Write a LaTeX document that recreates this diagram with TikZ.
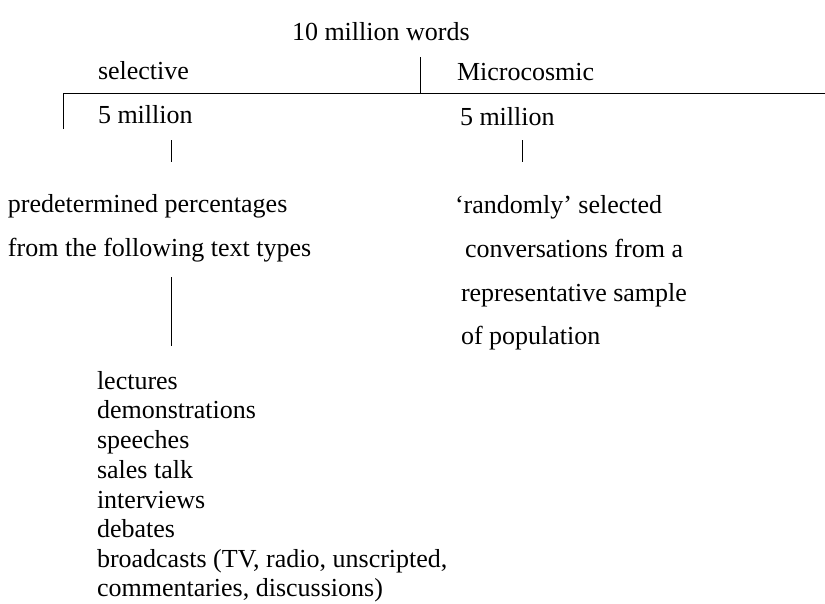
\documentclass[tikz,border=0pt]{standalone}
\usepackage{fontspec}
\setmainfont{Liberation Serif}
\begin{document}
\begin{tikzpicture}[x=1pt,y=-1pt,
  lbl/.style={anchor=base west,inner sep=0pt,outer sep=0pt,font=\fontsize{26}{29.6}\selectfont},
  ln/.style={line width=1pt,black}]
\useasboundingbox (0,0) rectangle (825,603);
\node[lbl] (total) at (292,40) {10 million words};
\node[lbl] (sel) at (98,79) {selective};
\node[lbl] (micro) at (457,80) {Microcosmic};
\node[lbl] (lfive) at (98,123) {5 million};
\node[lbl] (rfive) at (460,125) {5 million};
\coordinate (divtop) at (420,57);
\coordinate (divbot) at (420,93);
\coordinate (barL) at (63,93);
\coordinate (barR) at (825,93);
\coordinate (barLd) at (63,129);
\draw[ln] (divtop) -- (divbot);
\draw[ln] (barLd) -- (barL) -- (barR);
\node[lbl] (pre1) at (8,212) {predetermined percentages};
\node[lbl] (pre2) at (8,256) {from the following text types};
\node[lbl] (ran1) at (455,213) {‘randomly’ selected};
\node[lbl] (ran2) at (465,257) {conversations from a};
\node[lbl] (ran3) at (461,301) {representative sample};
\node[lbl] (ran4) at (461,344) {of population};
\coordinate (lt1) at (171,140);
\coordinate (lt2) at (171,162);
\coordinate (rt1) at (522,140);
\coordinate (rt2) at (522,162);
\coordinate (lv1) at (171,277);
\coordinate (lv2) at (171,346);
\draw[ln] (lt1) -- (lt2);
\draw[ln] (rt1) -- (rt2);
\draw[ln] (lv1) -- (lv2);
\node[lbl] (l1) at (97,389) {lectures};
\node[lbl] (l2) at (97,418.5) {demonstrations};
\node[lbl] (l3) at (97,448) {speeches};
\node[lbl] (l4) at (97,478) {sales talk};
\node[lbl] (l5) at (97,508) {interviews};
\node[lbl] (l6) at (97,537.5) {debates};
\node[lbl] (l7) at (97,567) {broadcasts (TV, radio, unscripted,};
\node[lbl] (l8) at (97,596) {commentaries, discussions)};
\end{tikzpicture}
\end{document}
